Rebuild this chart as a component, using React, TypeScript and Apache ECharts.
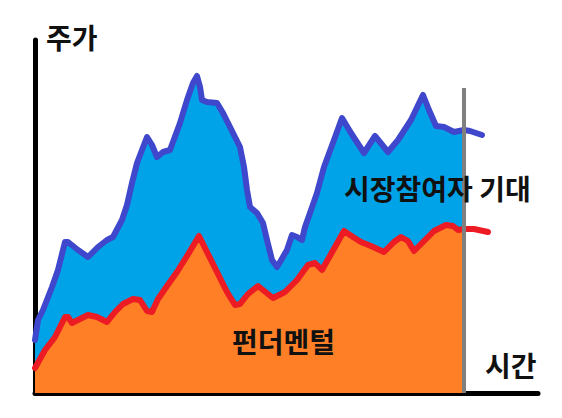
import React, { useEffect, useRef } from "react";
import * as echarts from "echarts";

// time (x) and price (y) readings, in chart units
const expectation: [number, number][] = [
  [0, 53], [3, 73], [8, 83], [17, 106], [23, 123], [30, 151], [33, 151], [43, 143],
  [53, 136], [63, 146], [72, 153], [78, 156], [87, 173], [92, 188], [97, 210], [102, 230],
  [112, 256], [117, 248], [122, 236], [128, 241], [135, 243], [145, 270], [152, 293],
  [158, 310], [162, 317], [165, 306], [167, 293], [172, 291], [182, 290], [188, 280],
  [198, 260], [205, 246], [209, 226], [212, 203], [215, 186], [222, 180], [228, 170],
  [232, 153], [237, 133], [242, 126], [245, 131], [252, 143], [257, 158], [262, 156],
  [267, 153], [270, 166], [275, 180], [282, 200], [289, 226], [299, 253], [307, 275],
  [316, 260], [329, 240], [340, 257], [353, 241], [363, 253], [376, 273], [388, 298],
  [394, 283], [401, 267], [409, 266], [419, 261], [429, 263], [435, 262], [447, 258],
];

const fundamental: [number, number][] = [
  [0, 25], [10, 43], [20, 56], [30, 76], [33, 76], [37, 70], [45, 74], [53, 78],
  [62, 76], [72, 71], [80, 81], [88, 89], [98, 94], [105, 93], [112, 82], [117, 81],
  [123, 94], [132, 107], [142, 121], [152, 137], [164, 157], [172, 141], [182, 121],
  [192, 101], [200, 88], [205, 89], [213, 99], [223, 107], [228, 103], [238, 95],
  [250, 101], [262, 113], [273, 128], [280, 130], [287, 123], [296, 139], [309, 162],
  [318, 156], [326, 151], [336, 147], [349, 141], [359, 151], [366, 156], [373, 152],
  [379, 142], [386, 149], [399, 162], [411, 168], [418, 167], [423, 163], [429, 164],
  [439, 164], [453, 161],
];

const nowX = 429; // present moment (gray line)
const nowTop = 305;

const xMax = 503;
const yMax = 353;

const labels = {
  yName: "주가",
  xName: "시간",
  expectation: "시장참여자 기대",
  fundamental: "펀더멘털",
};

const FONT = '"Noto Sans CJK KR", "Noto Sans", sans-serif';

export default function App() {
  const ref = useRef<HTMLDivElement>(null);

  useEffect(() => {
    if (!ref.current) return;
    const chart = echarts.init(ref.current, null, { renderer: "svg" });
    const past = (d: [number, number][]) => d.filter((p) => p[0] <= nowX);

    const textStyle = (x: number, y: number, text: string) => ({
      type: "text",
      x,
      y,
      z: 100,
      style: {
        text,
        fill: "#111",
        font: `bold 28px ${FONT}`,
        verticalAlign: "middle",
        align: "left",
      },
    });

    chart.setOption({
      animation: false,
      backgroundColor: "#ffffff",
      grid: { left: 35, top: 40, width: 503, height: 353 },
      xAxis: {
        type: "value",
        min: 0,
        max: xMax,
        axisLine: { show: true, onZero: false, lineStyle: { color: "#000", width: 5, cap: "round" } },
        axisTick: { show: false },
        axisLabel: { show: false },
        splitLine: { show: false },
      },
      yAxis: {
        type: "value",
        min: 0,
        max: yMax,
        axisLine: { show: true, onZero: false, lineStyle: { color: "#000", width: 5, cap: "round" } },
        axisTick: { show: false },
        axisLabel: { show: false },
        splitLine: { show: false },
      },
      series: [
        {
          type: "line",
          data: past(expectation),
          symbol: "none",
          lineStyle: { width: 0 },
          areaStyle: { color: "#00A2E8", opacity: 1 },
          z: 1,
        },
        {
          type: "line",
          data: past(fundamental),
          symbol: "none",
          lineStyle: { width: 0 },
          areaStyle: { color: "#FF7F27", opacity: 1 },
          z: 2,
        },
        {
          type: "line",
          data: expectation,
          symbol: "none",
          lineStyle: { color: "#3F48CC", width: 6, cap: "round", join: "round" },
          z: 3,
        },
        {
          type: "line",
          data: fundamental,
          symbol: "none",
          lineStyle: { color: "#ED1C24", width: 6, cap: "round", join: "round" },
          z: 4,
          markLine: {
            silent: true,
            symbol: "none",
            label: { show: false },
            lineStyle: { color: "#7F7F7F", width: 4, type: "solid" },
            data: [[{ coord: [nowX, nowTop] }, { coord: [nowX, 0] }]],
          },
        },
      ],
      graphic: [
        textStyle(46, 37, labels.yName),
        textStyle(344, 188, labels.expectation),
        textStyle(232, 341, labels.fundamental),
        textStyle(485, 365, labels.xName),
      ],
    });
    return () => chart.dispose();
  }, []);

  return (
    <div
      ref={ref}
      style={{ position: "absolute", left: 0, top: 0, width: 562, height: 418 }}
    />
  );
}
